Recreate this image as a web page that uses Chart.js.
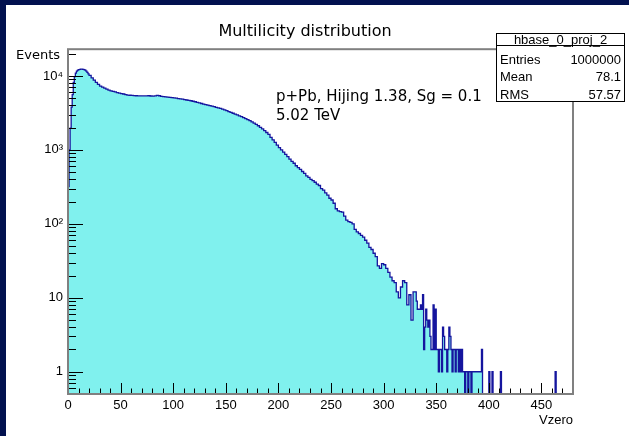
<!doctype html>
<html lang="en">

<head>
    <meta charset="utf-8">
    <title>Multilicity distribution</title>
    <script src="https://cdn.jsdelivr.net/npm/chart.js@4.4.0/dist/chart.umd.min.js"></script>
    <style>
        html, body { margin: 0; padding: 0; width: 629px; height: 436px; overflow: hidden; background: #02114f; }
        #pad { position: absolute; left: 6px; top: 5px; width: 623px; height: 431px; background: #ffffff; }
    </style>
</head>

<body>
    <div id="pad"><canvas id="histo" width="623" height="431"></canvas></div>

    <script type="text/javascript">
        // bin contents (log y, so read as heights)
        const riseStart = 0;     // 1-unit bins 0..19
        const riseCounts = [320, 1000, 1970, 3780, 5600, 8200, 9800, 10900, 11600, 12000,
            12200, 12300, 12400, 12400, 12300, 12200, 12000, 11600, 11200, 10700];

        const bulkStart = 20;    // 2-unit bins 20..329
        const bulkWidth = 2;
        const bulkCounts = [
            10200, 9400, 8800, 8200, 7700, 7300, 7050, 6850, 6650, 6450,
            6300, 6200, 6100, 5950, 5850, 5750, 5700, 5600, 5500, 5480,
            5450, 5420, 5400, 5390, 5380, 5370, 5370, 5380, 5400, 5360,
            5340, 5380, 5450, 5400, 5300, 5260, 5220, 5180, 5140, 5100,
            5050, 5000, 4950, 4900, 4850, 4790, 4730, 4680, 4620, 4550,
            4480, 4400, 4320, 4240, 4170, 4100, 4030, 3970, 3900, 3840,
            3770, 3700, 3640, 3560, 3470, 3390, 3300, 3210, 3130, 3050,
            2970, 2890, 2810, 2730, 2650, 2570, 2490, 2400, 2300, 2210,
            2120, 2020, 1920, 1820, 1720, 1620, 1480, 1370, 1260, 1160,
            1070, 1000, 935, 870, 810, 750, 700, 660, 610, 575,
            545, 510, 480, 445, 425, 400, 385, 365, 345, 330,
            300, 285, 262, 245, 222, 210, 190, 160, 150, 146,
            144, 127, 112, 107, 105, 100, 84, 78, 74, 70,
            66, 60, 55, 48, 45, 40, 36, 27, 25, 29,
            28, 25, 22, 19, 17, 16, 12, 10, 14, 17,
            16, 8, 11, 5, 12];

        const tailStart = 330;   // 1-unit bins 330..479
        const tailCounts = [
            12, 9, 7, 7, 7, 8, 7, 11, 2, 4,
            7, 5, 4, 5, 3, 2, 2, 8, 2, 7,
            2, 2, 1, 2, 2, 1, 4, 3, 2, 2,
            1, 2, 4, 3, 2, 1, 2, 2, 1, 2,
            2, 1, 2, 1, 2, 1, 1, 0, 1, 1,
            0, 1, 1, 0, 1, 1, 1, 1, 1, 1,
            1, 1, 1, 2, 0, 0, 0, 0, 0, 0,
            1, 0, 0, 1, 0, 0, 0, 0, 0, 0,
            0, 1, 0, 0, 0, 0, 0, 0, 0, 0,
            0, 0, 0, 0, 0, 0, 0, 0, 0, 0,
            0, 0, 0, 0, 0, 0, 0, 0, 0, 0,
            0, 0, 0, 0, 0, 0, 0, 0, 0, 0,
            0, 0, 0, 0, 0, 0, 0, 0, 0, 0,
            0, 0, 0, 1, 0, 0, 0, 0, 0, 0,
            0, 0, 0, 0, 0, 0, 0, 0, 0, 0];

        const xMin = 0, xMax = 480;
        const yMin = 0.5, yMax = 23000;
        const xLabelStep = 50;
        const xMinorStep = 10;
        const yTickValues = [1, 10, 100, 1000, 10000];
        const yTickLabels = ['1', '10', '10²', '10³', '10⁴'];

        const titleText = 'Multilicity distribution';
        const xTitle = 'Vzero';
        const yTitle = 'Events';
        const noteLines = ['p+Pb, Hijing 1.38, Sg = 0.1', '5.02 TeV'];
        const statsName = 'hbase_0_proj_2';
        const statsRows = [['Entries', '1000000'], ['Mean', '78.1'], ['RMS', '57.57']];

        // step points at the low edge of each bin
        var points = [];
        riseCounts.forEach((c, i) => points.push({ x: riseStart + i, y: c }));
        bulkCounts.forEach((c, i) => points.push({ x: bulkStart + bulkWidth * i, y: c }));
        tailCounts.forEach((c, i) => points.push({ x: tailStart + i, y: c }));
        points.push({ x: xMax, y: 0 });
        // empty bins go below the log axis and get clipped
        points.forEach(p => { if (p.y <= 0) p.y = yMin / 2; });

        const rootStyle = {
            id: 'rootStyle',
            afterDatasetsDraw(chart) {
                const { ctx, chartArea: a, scales: { x, y } } = chart;
                ctx.save();
                ctx.strokeStyle = '#000';
                ctx.lineWidth = 1;
                ctx.beginPath();
                for (let v = xMin; v <= xMax; v += xMinorStep) {
                    const px = Math.round(x.getPixelForValue(v)) + 0.5;
                    const len = v % xLabelStep === 0 ? 11 : 5.5;
                    ctx.moveTo(px, a.bottom);
                    ctx.lineTo(px, a.bottom - len);
                }
                [0.1, 1, 10, 100, 1000, 10000].forEach(d => {
                    for (let m = 1; m <= 9; m++) {
                        const v = m * d;
                        if (v < yMin || v > yMax) continue;
                        const py = Math.round(y.getPixelForValue(v)) + 0.5;
                        ctx.moveTo(a.left, py);
                        ctx.lineTo(a.left + (m === 1 ? 15 : 8), py);
                    }
                });
                ctx.stroke();
                ctx.strokeStyle = '#808080';
                ctx.lineWidth = 2;
                ctx.strokeRect(a.left, a.top, a.right - a.left, a.bottom - a.top);
                ctx.restore();
            },
            afterDraw(chart) {
                const ctx = chart.ctx;
                ctx.save();
                ctx.fillStyle = '#000';
                ctx.textBaseline = 'middle';

                ctx.textAlign = 'right';
                ctx.font = '13px "DejaVu Sans"';
                ctx.fillText(yTitle, 54, 51);
                ctx.font = '13px "Liberation Sans"';
                ctx.fillText(xTitle, 567, 415);

                ctx.textAlign = 'left';
                ctx.font = '15px "DejaVu Sans"';
                ctx.fillText(noteLines[0], 270, 92);
                ctx.fillText(noteLines[1], 270, 111);

                // stats box
                const bl = 490.5, bt = 28.5, br = 618.5, bb = 96.5, bd = 40.5;
                ctx.fillStyle = '#fff';
                ctx.fillRect(bl, bt, br - bl, bb - bt);
                ctx.strokeStyle = '#000';
                ctx.lineWidth = 1;
                ctx.strokeRect(bl, bt, br - bl, bb - bt);
                ctx.beginPath();
                ctx.moveTo(bl, bd);
                ctx.lineTo(br, bd);
                ctx.stroke();

                ctx.fillStyle = '#000';
                ctx.font = '13px "Liberation Sans"';
                ctx.textAlign = 'center';
                ctx.fillText(statsName, (bl + br) / 2, 35);
                statsRows.forEach((row, i) => {
                    const ty = 55 + i * 17.5;
                    ctx.textAlign = 'left';
                    ctx.fillText(row[0], bl + 3.5, ty);
                    ctx.textAlign = 'right';
                    ctx.fillText(row[1], br - 3.5, ty);
                });
                ctx.restore();
            }
        };

        var chart = new Chart(document.getElementById('histo'), {
            type: 'line',
            data: {
                datasets: [{
                    label: statsName,
                    data: points,
                    stepped: true,
                    borderColor: '#15159e',
                    borderWidth: 1.3,
                    backgroundColor: '#80f1ee',
                    fill: 'start',
                    pointRadius: 0,
                    tension: 0
                }]
            },
            options: {
                responsive: false,
                animation: false,
                devicePixelRatio: 1,
                layout: { padding: { left: 31, right: 56, top: 0, bottom: 0 } },
                plugins: {
                    legend: { display: false },
                    tooltip: { enabled: false },
                    title: {
                        display: true,
                        text: titleText,
                        color: '#000',
                        font: { family: 'DejaVu Sans', size: 16, weight: 'normal', lineHeight: 1.2 },
                        padding: { top: 17, bottom: 8 }
                    }
                },
                scales: {
                    x: {
                        type: 'linear',
                        min: xMin,
                        max: xMax,
                        grid: { display: false, drawTicks: false },
                        border: { display: false },
                        afterFit: s => { s.height = 42; },
                        ticks: {
                            stepSize: xLabelStep,
                            includeBounds: false,
                            autoSkip: false,
                            maxRotation: 0,
                            padding: 4,
                            color: '#000',
                            font: { family: 'Liberation Sans', size: 13 }
                        }
                    },
                    y: {
                        type: 'logarithmic',
                        min: yMin,
                        max: yMax,
                        grid: { display: false, drawTicks: false },
                        border: { display: false },
                        afterFit: s => { s.width = 31; },
                        afterBuildTicks: s => { s.ticks = yTickValues.map(v => ({ value: v, major: true })); },
                        ticks: {
                            autoSkip: false,
                            padding: 5,
                            color: '#000',
                            font: { family: 'Liberation Sans', size: 13 },
                            callback: v => yTickLabels[yTickValues.indexOf(v)]
                        }
                    }
                }
            },
            plugins: [rootStyle]
        });
    </script>
</body>

</html>
